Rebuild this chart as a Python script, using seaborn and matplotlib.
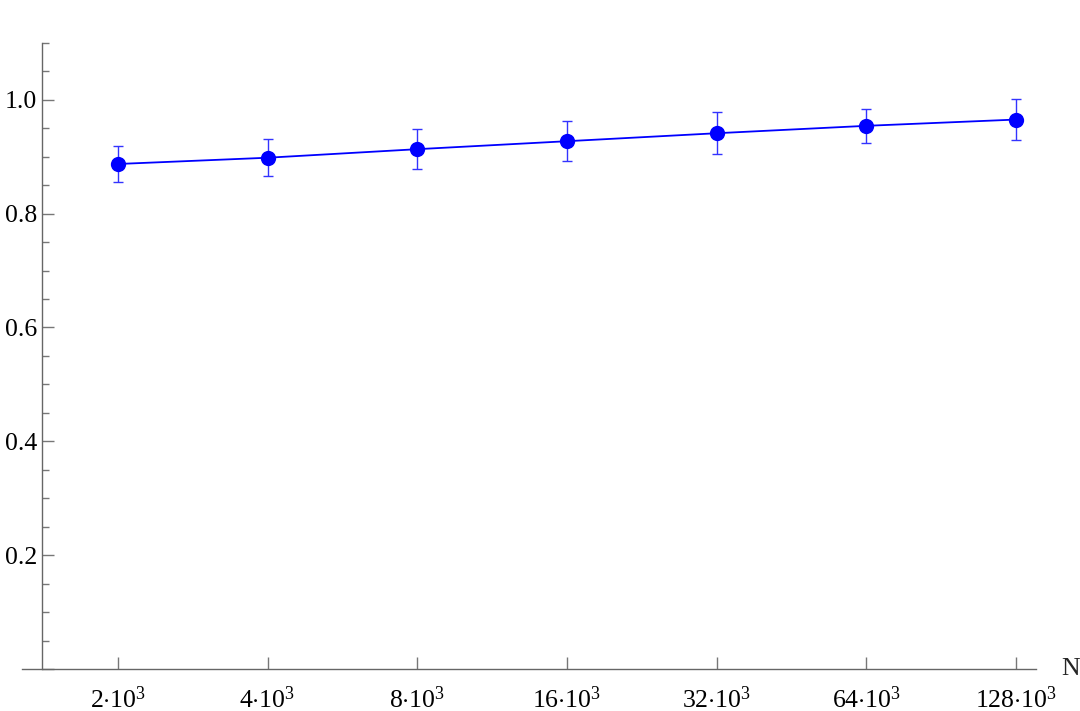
import numpy as np
import pandas as pd
import matplotlib
matplotlib.use('Agg')
import matplotlib.pyplot as plt
from matplotlib.ticker import FixedLocator, MultipleLocator
import seaborn as sns

# données
n_values = [2000, 4000, 8000, 16000, 32000, 64000, 128000]
n_labels = [r'$2{\cdot}10^3$', r'$4{\cdot}10^3$', r'$8{\cdot}10^3$', r'$16{\cdot}10^3$',
            r'$32{\cdot}10^3$', r'$64{\cdot}10^3$', r'$128{\cdot}10^3$']
moyenne = [0.887, 0.898, 0.913, 0.927, 0.941, 0.954, 0.965]
erreur = [0.032, 0.032, 0.035, 0.035, 0.037, 0.030, 0.036]

df = pd.DataFrame({'N': n_values, 'val': moyenne, 'err': erreur})

sns.set_style('white')
plt.rcParams['font.family'] = ['Liberation Serif', 'DejaVu Serif']
plt.rcParams['mathtext.fontset'] = 'custom'
plt.rcParams['mathtext.rm'] = 'Liberation Serif'
plt.rcParams['mathtext.it'] = 'Liberation Serif:italic'

fig = plt.figure(figsize=(10.8, 7.11), dpi=100)
ax = fig.add_axes([0.0207, 0.0587, 0.9386, 0.8813])

ax.set_xscale('log', base=2)

ax.errorbar(df['N'], df['val'], yerr=df['err'], fmt='none', ecolor='#3333ff',
            elinewidth=1.0, capsize=3.5, capthick=1.0, zorder=2)
sns.lineplot(data=df, x='N', y='val', ax=ax, color='blue', marker='o',
             markersize=11, markeredgewidth=0, linewidth=1.3, zorder=3)

x_left = 1000 * 2 ** 0.362
x_spine = 1000 * 2 ** 0.496
x_right = 1000 * 2 ** 7.134
ax.set_xlim(x_left, x_right)
ax.set_ylim(0, 1.1)

ax.spines['top'].set_visible(False)
ax.spines['right'].set_visible(False)
ax.spines['left'].set_position(('data', x_spine))
for s in ['left', 'bottom']:
    ax.spines[s].set_color('#666666')
    ax.spines[s].set_linewidth(1.0)

ax.xaxis.set_major_locator(FixedLocator(n_values))
ax.xaxis.set_minor_locator(FixedLocator([]))
ax.set_xticklabels(n_labels)
ax.yaxis.set_major_locator(FixedLocator([0, 0.2, 0.4, 0.6, 0.8, 1.0]))
ax.set_yticklabels(['', '0.2', '0.4', '0.6', '0.8', '1.0'])
ax.yaxis.set_minor_locator(MultipleLocator(0.05))

ax.tick_params(bottom=True, left=True, which='both')
ax.tick_params(axis='both', which='major', direction='in', length=8.5, width=1.0,
               color='#777777', labelsize=18.5, labelcolor='black')
ax.tick_params(axis='y', which='minor', direction='in', length=5, width=1.0, color='#777777')
ax.tick_params(axis='x', which='major', pad=12)
ax.tick_params(axis='y', which='major', pad=4)
ax.set_xlabel('')
ax.set_ylabel('')

ax.annotate('N', xy=(1, 0), xycoords='axes fraction', xytext=(25, 0),
            textcoords='offset pixels', fontsize=18.5, ha='left', va='center')

fig.savefig('out.png', dpi=100)
